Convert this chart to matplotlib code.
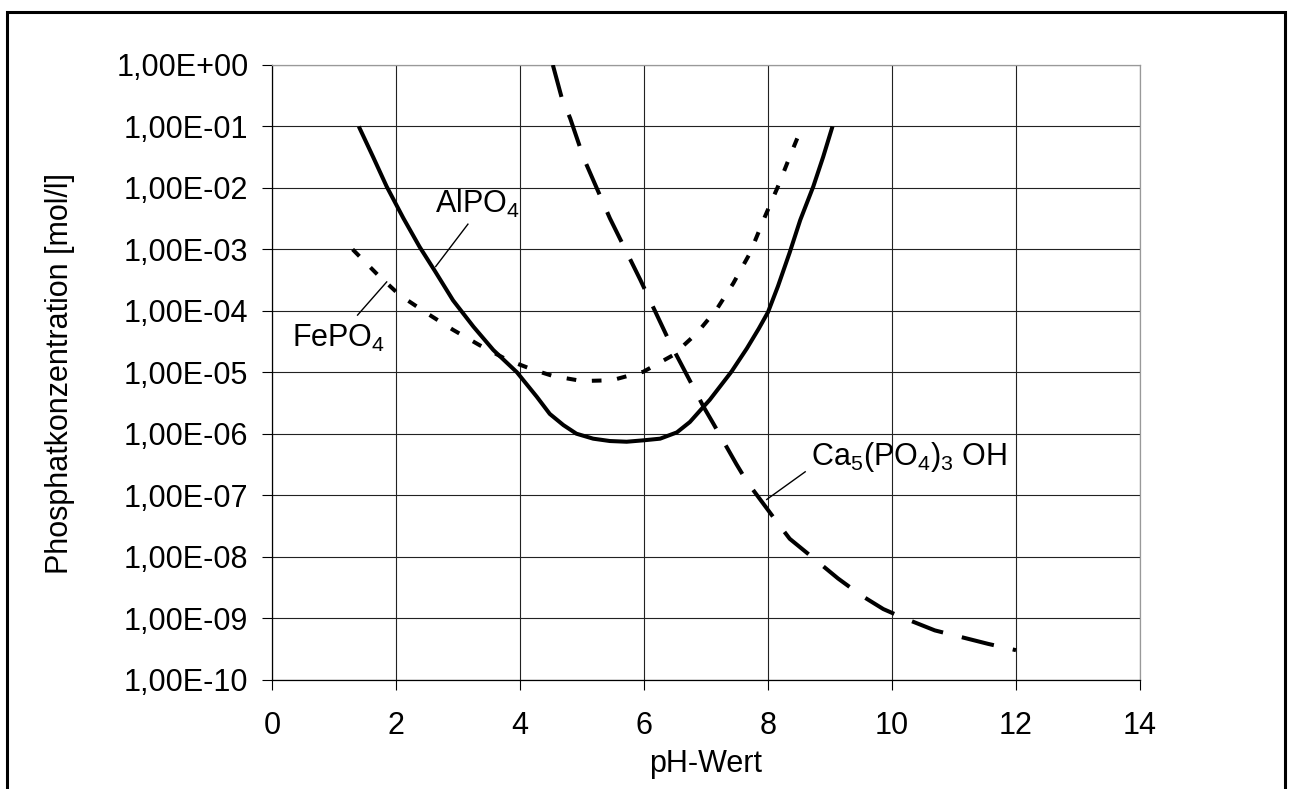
import math
import matplotlib
matplotlib.use("Agg")
import matplotlib.pyplot as plt
from matplotlib.patches import Rectangle
from matplotlib.ticker import FixedLocator, FuncFormatter

plt.rcParams['font.family'] = ['Liberation Sans', 'DejaVu Sans']
plt.rcParams['mathtext.fontset'] = 'custom'
plt.rcParams['mathtext.rm'] = 'Liberation Sans'
plt.rcParams['mathtext.it'] = 'Liberation Sans:italic'
plt.rcParams['mathtext.bf'] = 'Liberation Sans:bold'

# ---- data ----
x_label = "pH-Wert"
y_label = "Phosphatkonzentration [mol/l]"
x_ticks = [0, 2, 4, 6, 8, 10, 12, 14]
y_ticks = [1e-10, 1e-9, 1e-8, 1e-7, 1e-6, 1e-5, 1e-4, 1e-3, 1e-2, 1e-1, 1e0]

alpo4_ph = [1.40, 1.63, 1.85, 2.12, 2.38, 2.63, 2.92, 3.25, 3.57, 3.95, 4.27,
            4.48, 4.70, 4.91, 5.18, 5.45, 5.72, 5.99, 6.26, 6.53, 6.74, 6.96,
            7.06, 7.41, 7.66, 7.85, 8.00, 8.16, 8.35, 8.52, 8.73, 8.89, 9.04]
alpo4_c = [1.0e-1, 3.2e-2, 1.05e-2, 3.2e-3, 1.1e-3, 4.4e-4, 1.48e-4, 5.5e-5,
           2.3e-5, 1.0e-5, 4.0e-6, 2.1e-6, 1.38e-6, 1.0e-6, 8.3e-7, 7.6e-7,
           7.4e-7, 7.8e-7, 8.3e-7, 1.05e-6, 1.55e-6, 2.75e-6,
           3.55e-6, 1.02e-5, 2.45e-5, 5.1e-5, 9.5e-5, 2.5e-4, 8.9e-4,
           3.0e-3, 1.05e-2, 3.2e-2, 1.0e-1]

fepo4_ph = [1.30, 1.70, 2.06, 2.50, 2.92, 3.35, 3.79, 4.21, 4.53, 5.00, 5.48,
            5.99, 6.47, 6.85, 7.17, 7.44, 7.71, 7.95, 8.16, 8.35, 8.55]
fepo4_c = [1.0e-3, 3.9e-4, 1.8e-4, 9.1e-5, 4.9e-5, 2.75e-5, 1.6e-5, 1.1e-5,
           8.7e-6, 7.2e-6, 7.4e-6, 1.02e-5, 1.9e-5, 4.3e-5, 1.05e-4, 2.8e-4,
           8.7e-4, 3.4e-3, 1.05e-2, 3.2e-2, 1.0e-1]

ca_ph = [4.53, 4.67, 4.81, 5.03, 5.45, 5.94, 6.42, 6.96, 7.12, 7.49, 7.66,
         8.14, 8.35, 8.74, 9.13, 9.50, 9.86, 10.17, 10.69, 11.55, 12.00]
ca_c = [1.0e0, 3.0e-1, 1.35e-1, 3.0e-2, 3.2e-3, 3.2e-4, 3.0e-5, 2.75e-6,
        1.45e-6, 3.2e-7, 1.66e-7, 3.7e-8, 1.95e-8, 9.3e-9, 4.4e-9, 2.35e-9,
        1.4e-9, 1.02e-9, 6.3e-10, 3.8e-10, 3.0e-10]

labels = [r"AlPO$_\mathregular{4}$", r"FePO$_\mathregular{4}$",
          r"Ca$_\mathregular{5}$(PO$_\mathregular{4}$)$_\mathregular{3}$ OH"]

# ---- figure ----
W, H = 1290, 789
fig = plt.figure(figsize=(W / 100, H / 100), dpi=100)
fig.patch.set_facecolor("white")
ax = fig.add_axes([272 / W, 1 - 679.5 / H, (1140 - 272) / W, (679.5 - 65) / H])

ax.set_yscale("log")
ax.set_xlim(0, 14)
ax.set_ylim(1e-10, 1e0)

lw = 2.9
ax.plot(alpo4_ph, alpo4_c, color="black", lw=lw, solid_capstyle="butt",
        solid_joinstyle="round", zorder=3)
ax.plot(fepo4_ph, fepo4_c, color="black", lw=lw, linestyle=(0, (2.4, 3.9)), zorder=3)
ax.plot(ca_ph, ca_c, color="black", lw=lw, linestyle=(0, (8.2, 4.8)), zorder=3)

ax.xaxis.set_major_locator(FixedLocator(x_ticks))
ax.yaxis.set_major_locator(FixedLocator(y_ticks))
ax.yaxis.set_minor_locator(FixedLocator([]))


def yfmt(v, pos):
    e = int(round(math.log10(v)))
    return "1,00E%s%02d" % ("+" if e >= 0 else "-", abs(e))


ax.yaxis.set_major_formatter(FuncFormatter(yfmt))
ax.xaxis.set_major_formatter(FuncFormatter(lambda v, p: "%d" % v))

ax.grid(True, which="major", color="#222222", lw=0.8)
ax.set_axisbelow(True)
ax.tick_params(axis="both", which="major", direction="out", length=7,
               width=0.8, color="black", labelsize=22)
ax.tick_params(axis="y", pad=10)
ax.tick_params(axis="x", pad=16)
for s in ["left", "bottom"]:
    ax.spines[s].set_color("black")
    ax.spines[s].set_linewidth(0.9)
for s in ["top", "right"]:
    ax.spines[s].set_color("#999999")
    ax.spines[s].set_linewidth(0.9)

fig.text(706 / W, 1 - 771.7 / H, x_label, ha="center", va="baseline", fontsize=22)
fig.text(60.4 / W, 1 - 373 / H, y_label, ha="center", va="center",
         rotation=90, fontsize=22)

# annotations with leader lines
ax.text(2.63, 10 ** -2.41, labels[0], fontsize=22, ha="left", va="baseline")
ax.plot([3.16, 2.64], [10 ** -2.59, 10 ** -3.28], color="black", lw=1.0)

ax.text(0.32, 10 ** -4.58, labels[1], fontsize=22, ha="left", va="baseline")
ax.plot([1.38, 1.85], [10 ** -4.07, 10 ** -3.53], color="black", lw=1.0)

ax.text(8.70, 10 ** -6.51, labels[2], fontsize=22, ha="left", va="baseline")
ax.plot([8.60, 7.98], [10 ** -6.62, 10 ** -7.07], color="black", lw=1.0)

# outer chart border
fig.add_artist(Rectangle((7 / W, -0.02), (1285 - 7) / W, (1 - 12 / H) + 0.02,
                         transform=fig.transFigure, fill=False,
                         edgecolor="black", lw=2.2, clip_on=False))

fig.savefig("out.png", dpi=100, facecolor="white")
